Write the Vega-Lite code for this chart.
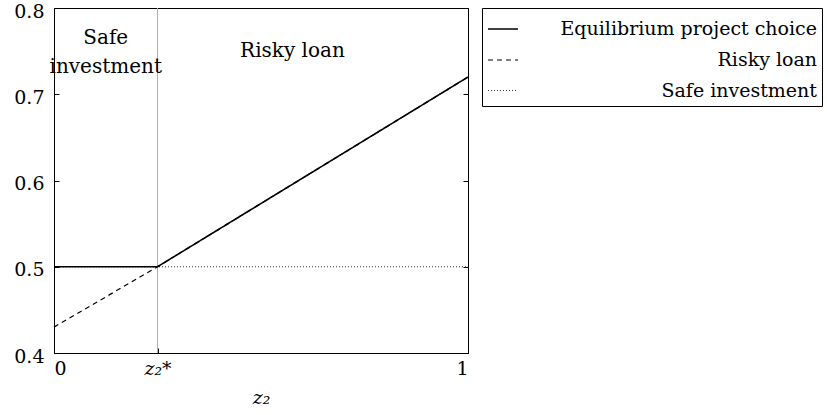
{
  "$schema": "https://vega.github.io/schema/vega-lite/v6.json",
  "width": 414,
  "height": 345,
  "autosize": {"type": "none"},
  "padding": {"left": 54, "top": 8, "right": 359, "bottom": 62},
  "config": {
    "font": "DejaVu Serif",
    "text": {"font": "DejaVu Serif"},
    "view": {"stroke": "black", "strokeWidth": 1},
    "axis": {
      "domainColor": "black",
      "tickColor": "black",
      "labelColor": "black",
      "titleColor": "black",
      "labelFontSize": 19,
      "titleFontSize": 19,
      "labelFont": "DejaVu Serif",
      "titleFont": "DejaVu Serif",
      "grid": false
    },
    "legend": {"labelFont": "DejaVu Serif"}
  },
  "datasets": {
    "lines": [
      {"series": "Risky loan", "z": 0, "v": 0.43},
      {"series": "Risky loan", "z": 0.25, "v": 0.5},
      {"series": "Risky loan", "z": 1, "v": 0.72},
      {"series": "Safe investment", "z": 0, "v": 0.5},
      {"series": "Safe investment", "z": 1, "v": 0.5},
      {"series": "Equilibrium project choice", "z": 0, "v": 0.5},
      {"series": "Equilibrium project choice", "z": 0.25, "v": 0.5},
      {"series": "Equilibrium project choice", "z": 1, "v": 0.72}
    ],
    "labels": [
      {"label": "Safe\ninvestment", "z": 0.125, "v": 0.758},
      {"label": "Risky loan", "z": 0.576, "v": 0.743}
    ],
    "cut": [{"z": 0.25}]
  },
  "layer": [
    {
      "data": {"name": "cut"},
      "mark": {"type": "rule", "color": "#b0b0b0", "strokeWidth": 1},
      "encoding": {
        "x": {
          "field": "z", "type": "quantitative",
          "scale": {"domain": [0, 1], "nice": false, "zero": false},
          "axis": {
            "orient": "bottom",
            "values": [0, 0.25, 1],
            "labelExpr": "datum.value == 0 ? '0' : datum.value == 1 ? '1' : 'z₂*'",
            "labelFontStyle": {"condition": {"test": "datum.value == 0.25", "value": "italic"}, "value": "normal"},
            "tickSize": -5,
            "labelPadding": 11,
            "title": "z₂",
            "titleFontStyle": "italic",
            "titleFontWeight": "normal",
            "titlePadding": 10
          }
        }
      }
    },
    {
      "data": {"name": "lines"},
      "transform": [{"filter": "datum.series != 'Equilibrium project choice'"}],
      "mark": {"type": "line", "color": "black"},
      "encoding": {
        "x": {"field": "z", "type": "quantitative"},
        "y": {
          "field": "v", "type": "quantitative",
          "scale": {"domain": [0.4, 0.8], "nice": false, "zero": false},
          "axis": {
            "orient": "left",
            "values": [0.4, 0.5, 0.6, 0.7, 0.8],
            "format": ".1f",
            "tickSize": -5,
            "labelPadding": 15,
            "labelOffset": 3,
            "title": null
          }
        },
        "detail": {"field": "series"},
        "strokeDash": {
          "field": "series", "type": "nominal",
          "scale": {"domain": ["Equilibrium project choice", "Risky loan", "Safe investment"], "range": [[1, 0], [5, 4], [1, 2]]},
          "legend": {
            "orient": "none",
            "legendX": 428,
            "legendY": 0,
            "title": null,
            "symbolType": "stroke",
            "symbolSize": 900,
            "symbolStrokeColor": "black",
            "strokeColor": "black",
            "padding": 5,
            "labelFontSize": 19,
            "labelColor": "black",
            "labelAlign": "right",
            "labelOffset": 298,
            "rowPadding": 5,
            "labelLimit": 400
          }
        },
        "strokeWidth": {
          "field": "series", "type": "nominal",
          "scale": {"domain": ["Equilibrium project choice", "Risky loan", "Safe investment"], "range": [1.6, 0.8, 0.8]},
          "legend": {
            "orient": "none",
            "legendX": 428,
            "legendY": 0,
            "title": null,
            "symbolType": "stroke",
            "symbolSize": 900,
            "symbolStrokeColor": "black",
            "strokeColor": "black",
            "padding": 5,
            "labelFontSize": 19,
            "labelColor": "black",
            "labelAlign": "right",
            "labelOffset": 298,
            "rowPadding": 5,
            "labelLimit": 400
          }
        }
      }
    },
    {
      "data": {"name": "lines"},
      "transform": [{"filter": "datum.series == 'Equilibrium project choice'"}],
      "mark": {"type": "line", "color": "black"},
      "encoding": {
        "x": {"field": "z", "type": "quantitative"},
        "y": {
          "field": "v", "type": "quantitative",
          "axis": {
            "orient": "right",
            "values": [0.4, 0.5, 0.6, 0.7, 0.8],
            "labels": false,
            "tickSize": -5,
            "title": null
          }
        },
        "strokeDash": {"field": "series", "type": "nominal"},
        "strokeWidth": {"field": "series", "type": "nominal"}
      }
    },
    {
      "data": {"name": "labels"},
      "mark": {"type": "text", "fontSize": 20, "font": "DejaVu Serif", "color": "black", "align": "center", "baseline": "alphabetic", "lineBreak": "\n", "lineHeight": 29},
      "encoding": {
        "x": {"field": "z", "type": "quantitative"},
        "y": {"field": "v", "type": "quantitative", "axis": null},
        "text": {"field": "label"}
      }
    }
  ],
  "resolve": {"axis": {"y": "independent"}}
}
